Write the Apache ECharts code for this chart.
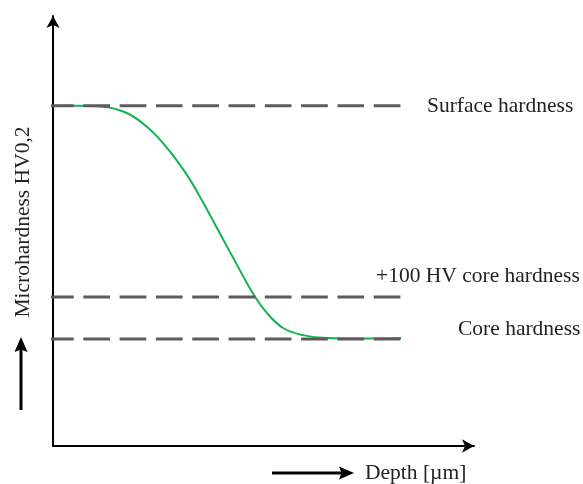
<!DOCTYPE html>
<html>
<head>
<meta charset="utf-8">
<script src="https://cdn.jsdelivr.net/npm/echarts@6/dist/echarts.min.js"></script>
<style>html,body{margin:0;padding:0;background:#fff;}#chart{width:583px;height:484px;}</style>
</head>
<body>
<div id="chart"></div>
<script>
// Depth (arbitrary units) and microhardness (arbitrary HV scale) read from the schematic
const depth    = [0, 59, 117, 173, 220, 267, 314, 351, 384, 422, 468, 501, 539, 585, 642, 719, 815];
const hardness = [810, 810, 808, 793, 760, 710, 645, 581, 519, 448, 364, 317, 281, 264, 257, 256, 257];
const levelNames  = ['Surface hardness', '+100 HV core hardness', 'Core hardness'];
const levelValues = [810, 355, 255];
const levelStart = -14, levelEnd = 815;
const xLabel = 'Depth [µm]';
const yLabel = 'Microhardness HV0,2';

const FONT = '21.5px "Liberation Serif", "Times New Roman", serif';
const chart = echarts.init(document.getElementById('chart'));

const levelSeries = levelValues.map((v, i) => ({
  type: 'line',
  name: levelNames[i],
  data: [[levelStart, v], [levelEnd, v]],
  symbol: 'none',
  clip: false,
  silent: true,
  z: 3,
  lineStyle: { color: '#5c5c5c', width: 3, type: [26.7, 9.6] }
}));

const axisCommon = {
  type: 'value',
  axisLine: { show: true, onZero: false, lineStyle: { color: '#000', width: 2 }, symbol: ['none', 'arrow'], symbolSize: [10, 12] },
  axisTick: { show: false },
  axisLabel: { show: false },
  splitLine: { show: false }
};

chart.setOption({
  animation: false,
  backgroundColor: '#fff',
  grid: { left: 53, top: 16, right: 109, bottom: 38 },
  xAxis: Object.assign({ min: 0, max: 986 }, axisCommon),
  yAxis: Object.assign({ min: 0, max: 1024 }, axisCommon),
  series: [{
    type: 'line',
    data: depth.map((d, i) => [d, hardness[i]]),
    smooth: 0.4,
    symbol: 'none',
    z: 2,
    lineStyle: { color: '#12b24f', width: 2 }
  }].concat(levelSeries),
  graphic: [
    { type: 'text', x: 427, y: 106, style: { text: levelNames[0], font: FONT, fill: '#222', align: 'left', verticalAlign: 'middle' } },
    { type: 'text', x: 376, y: 276, style: { text: levelNames[1], font: FONT, fill: '#222', align: 'left', verticalAlign: 'middle' } },
    { type: 'text', x: 458, y: 329, style: { text: levelNames[2], font: FONT, fill: '#222', align: 'left', verticalAlign: 'middle' } },
    { type: 'text', x: 365, y: 473, style: { text: xLabel, font: FONT, fill: '#222', align: 'left', verticalAlign: 'middle' } },
    { type: 'text', x: 23, y: 222, rotation: Math.PI / 2, style: { text: yLabel, font: FONT, fill: '#222', align: 'center', verticalAlign: 'middle' } },
    { type: 'line', shape: { x1: 21, y1: 410, x2: 21, y2: 348 }, style: { stroke: '#000', lineWidth: 3 } },
    { type: 'polygon', shape: { points: [[21, 337], [14.5, 352], [21, 349.5], [27.5, 352]] }, style: { fill: '#000' } },
    { type: 'line', shape: { x1: 272, y1: 473, x2: 343, y2: 473 }, style: { stroke: '#000', lineWidth: 3 } },
    { type: 'polygon', shape: { points: [[354, 473], [339, 466.5], [341.5, 473], [339, 479.5]] }, style: { fill: '#000' } }
  ]
});
</script>
</body>
</html>
